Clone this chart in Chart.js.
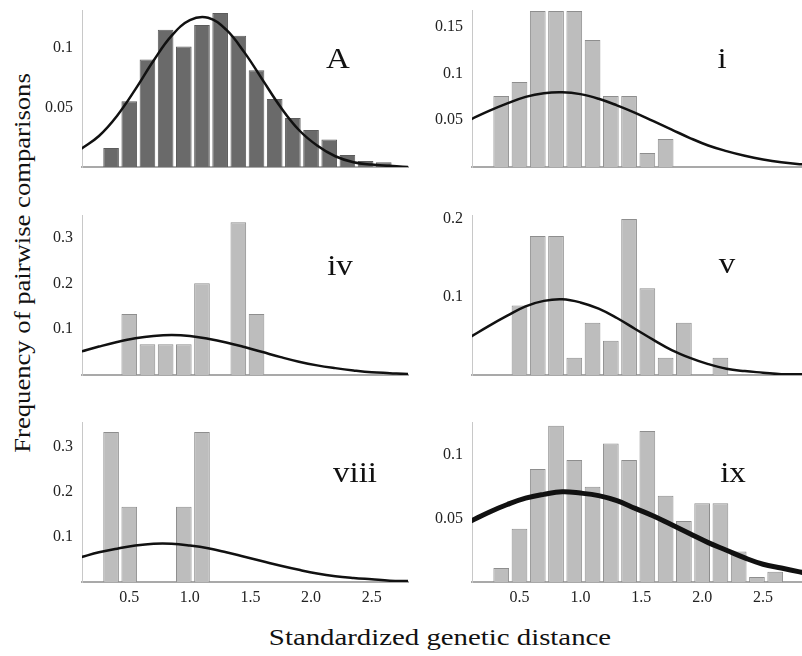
<!DOCTYPE html>
<html>
<head>
<meta charset="utf-8">
<script src="https://cdn.jsdelivr.net/npm/chart.js@4.4.1/dist/chart.umd.min.js"></script>
<style>
  html, body { margin: 0; padding: 0; background: #fff; }
  #fig { position: relative; width: 802px; height: 656px; overflow: hidden; font-family: "Liberation Serif", serif; color: #111; }
  .panel { position: absolute; }
  .ytitle { position: absolute; left: 22px; top: 263px; white-space: nowrap; font-size: 24px;
            transform: translate(-50%, -50%) rotate(-90deg) scaleX(1.11); }
  .xtitle { position: absolute; left: 440px; top: 637px; white-space: nowrap; font-size: 24px;
            transform: translate(-50%, -50%) scaleX(1.2); }
</style>
</head>
<body>
<div id="fig">
  <div class="ytitle">Frequency of pairwise comparisons</div>
  <div class="xtitle">Standardized genetic distance</div>
</div>
<script>
// x tick labels (bottom row only) and the x positions where the fitted curves were read
const xTicks = [0.5, 1, 1.5, 2, 2.5];
const curveX = [0.1, 0.25, 0.4, 0.55, 0.7, 0.85, 1.0, 1.15, 1.3, 1.45, 1.6, 1.75, 1.9, 2.05, 2.2, 2.35, 2.5, 2.65, 2.8, 2.95];

// panel A
const binsA = [0.2, 0.35, 0.5, 0.65, 0.8, 0.95, 1.1, 1.25, 1.4, 1.55, 1.7, 1.85, 2.0, 2.15, 2.3, 2.45, 2.6];
const freqA = [0, 0.016, 0.055, 0.090, 0.115, 0.101, 0.119, 0.129, 0.110, 0.081, 0.057, 0.041, 0.031, 0.023, 0.010, 0.005, 0.004];
const curveA = [0.015, 0.026, 0.043, 0.065, 0.089, 0.110, 0.123, 0.125, 0.115, 0.096, 0.073, 0.050, 0.031, 0.018, 0.009, 0.004, 0.002, 0.001, 0.000, 0.000];
const yTicksA = [0.05, 0.1];

// panel i
const binsI = [0.35, 0.5, 0.65, 0.8, 0.95, 1.1, 1.25, 1.4, 1.55, 1.7];
const freqI = [0.076, 0.091, 0.167, 0.167, 0.167, 0.136, 0.076, 0.076, 0.015, 0.030];
const curveI = [0.051, 0.060, 0.068, 0.075, 0.079, 0.080, 0.078, 0.073, 0.066, 0.058, 0.049, 0.040, 0.031, 0.023, 0.017, 0.012, 0.008, 0.005, 0.003, 0.002];
const yTicksI = [0.05, 0.1, 0.15];

// panel iv
const binsIV = [0.5, 0.65, 0.8, 0.95, 1.1, 1.25, 1.4, 1.55];
const freqIV = [0.133, 0.067, 0.067, 0.067, 0.2, 0, 0.333, 0.133];
const curveIV = [0.051, 0.062, 0.072, 0.080, 0.085, 0.087, 0.085, 0.079, 0.071, 0.061, 0.050, 0.039, 0.029, 0.021, 0.015, 0.010, 0.006, 0.004, 0.002, 0.001];
const yTicksIV = [0.1, 0.2, 0.3];

// panel v
const binsV = [0.5, 0.65, 0.8, 0.95, 1.1, 1.25, 1.4, 1.55, 1.7, 1.85, 2.0, 2.15];
const freqV = [0.089, 0.178, 0.178, 0.022, 0.067, 0.044, 0.2, 0.111, 0.022, 0.067, 0, 0.022];
const curveV = [0.049, 0.063, 0.076, 0.088, 0.095, 0.097, 0.093, 0.085, 0.073, 0.059, 0.045, 0.032, 0.022, 0.014, 0.008, 0.005, 0.003, 0.001, 0.001, 0.000];
const yTicksV = [0.1, 0.2];

// panel viii
const binsVIII = [0.35, 0.5, 0.65, 0.8, 0.95, 1.1];
const freqVIII = [0.333, 0.167, 0, 0, 0.167, 0.333];
const curveVIII = [0.055, 0.066, 0.074, 0.081, 0.085, 0.085, 0.081, 0.075, 0.066, 0.056, 0.046, 0.036, 0.027, 0.019, 0.013, 0.009, 0.006, 0.003, 0.002, 0.001];
const yTicksVIII = [0.1, 0.2, 0.3];

// panel ix
const binsIX = [0.35, 0.5, 0.65, 0.8, 0.95, 1.1, 1.25, 1.4, 1.55, 1.7, 1.85, 2.0, 2.15, 2.3, 2.45, 2.6];
const freqIX = [0.011, 0.042, 0.089, 0.123, 0.096, 0.075, 0.109, 0.096, 0.119, 0.068, 0.048, 0.062, 0.062, 0.024, 0.004, 0.008];
const curveIX = [0.048, 0.055, 0.061, 0.066, 0.069, 0.071, 0.070, 0.068, 0.064, 0.058, 0.052, 0.045, 0.038, 0.031, 0.025, 0.019, 0.014, 0.011, 0.008, 0.005];
const yTicksIX = [0.05, 0.1];

Chart.defaults.font.family = '"Liberation Serif", serif';

const panelLabel = {
  id: "panelLabel",
  afterDraw(chart, args, opts) {
    const ctx = chart.ctx;
    ctx.save();
    ctx.font = '30px "Liberation Serif"';
    ctx.fillStyle = "#111";
    ctx.textAlign = "center";
    ctx.textBaseline = "alphabetic";
    ctx.translate(opts.x, opts.y);
    ctx.scale(1.1, 1);
    ctx.fillText(opts.text, 0, 0);
    ctx.restore();
  },
};

function makePanel(p) {
  const wrap = document.createElement("div");
  wrap.className = "panel";
  wrap.style.left = p.left + "px";
  wrap.style.top = p.top + "px";
  wrap.style.width = p.width + "px";
  wrap.style.height = p.height + "px";
  const canvas = document.createElement("canvas");
  wrap.appendChild(canvas);
  document.getElementById("fig").appendChild(wrap);

  const tickFont = { family: '"Liberation Serif", serif', size: 16 };
  return new Chart(canvas, {
    type: "bar",
    data: {
      datasets: [
        {
          type: "line",
          data: curveX.map((x, i) => ({ x, y: p.curve[i] })),
          borderColor: "#111",
          borderWidth: p.lineWidth,
          pointRadius: 0,
          tension: 0.4,
          fill: false,
          order: 0,
        },
        {
          type: "bar",
          data: p.bins.map((x, i) => ({ x, y: p.freq[i] })),
          backgroundColor: p.barFill,
          borderColor: p.barEdge,
          borderWidth: 1,
          barPercentage: 0.86,
          categoryPercentage: 1,
          order: 1,
        },
      ],
    },
    options: {
      responsive: true,
      maintainAspectRatio: false,
      animation: false,
      events: [],
      layout: { padding: { top: 10, right: p.padRight, left: 0, bottom: 0 } },
      plugins: {
        legend: { display: false },
        tooltip: { enabled: false },
        panelLabel: { text: p.label, x: p.labelX, y: p.labelY },
      },
      scales: {
        x: {
          type: "linear",
          min: 0.11,
          max: p.xMax,
          offset: false,
          grid: { display: false, drawTicks: false },
          border: { display: true, color: "#a9a9a9", width: 2 },
          ticks: { display: p.showX, font: tickFont, color: "#222", padding: 6, maxRotation: 0 },
          afterBuildTicks: (s) => { s.ticks = xTicks.map((v) => ({ value: v })); },
          afterFit: (s) => { s.height = p.xH; s.paddingLeft = 0; s.paddingRight = 0; },
        },
        y: {
          type: "linear",
          min: 0,
          max: p.yMax,
          grid: { display: false, drawTicks: false },
          border: { display: true, color: "#c8c8c8", width: 1 },
          ticks: { font: tickFont, color: "#222", padding: 9, callback: (v) => String(v) },
          afterBuildTicks: (s) => { s.ticks = p.yTicks.map((v) => ({ value: v })); },
          afterFit: (s) => { s.width = 52; s.paddingTop = 0; s.paddingBottom = 0; },
        },
      },
    },
    plugins: [panelLabel],
  });
}

const dark = { barFill: "#6a6a6a", barEdge: "#5c5c5c" };
const light = { barFill: "#bdbdbd", barEdge: "#8e8e8e" };
const leftCol = { left: 30, width: 380, padRight: 2, xMax: 2.8 };
const rightCol = { left: 420, width: 382, padRight: 0, xMax: 2.82 };
const row1 = { top: 0, height: 172, xH: 5, showX: false };
const row2 = { top: 205, height: 175, xH: 5, showX: false };
const row3 = { top: 412, height: 200, xH: 30, showX: true };

makePanel({ ...leftCol, ...row1, ...dark, bins: binsA, freq: freqA, curve: curveA, yTicks: yTicksA, yMax: 0.1315, lineWidth: 2.5, label: "A", labelX: 308, labelY: 68 });
makePanel({ ...rightCol, ...row1, ...light, bins: binsI, freq: freqI, curve: curveI, yTicks: yTicksI, yMax: 0.168, lineWidth: 2.5, label: "i", labelX: 302, labelY: 68 });
makePanel({ ...leftCol, ...row2, ...light, bins: binsIV, freq: freqIV, curve: curveIV, yTicks: yTicksIV, yMax: 0.349, lineWidth: 2.5, label: "iv", labelX: 310, labelY: 70 });
makePanel({ ...rightCol, ...row2, ...light, bins: binsV, freq: freqV, curve: curveV, yTicks: yTicksV, yMax: 0.205, lineWidth: 2.5, label: "v", labelX: 307, labelY: 68 });
makePanel({ ...leftCol, ...row3, ...light, bins: binsVIII, freq: freqVIII, curve: curveVIII, yTicks: yTicksVIII, yMax: 0.355, lineWidth: 2.5, label: "viii", labelX: 325, labelY: 70 });
makePanel({ ...rightCol, ...row3, ...light, bins: binsIX, freq: freqIX, curve: curveIX, yTicks: yTicksIX, yMax: 0.126, lineWidth: 5, label: "ix", labelX: 313, labelY: 70 });
</script>
</body>
</html>
